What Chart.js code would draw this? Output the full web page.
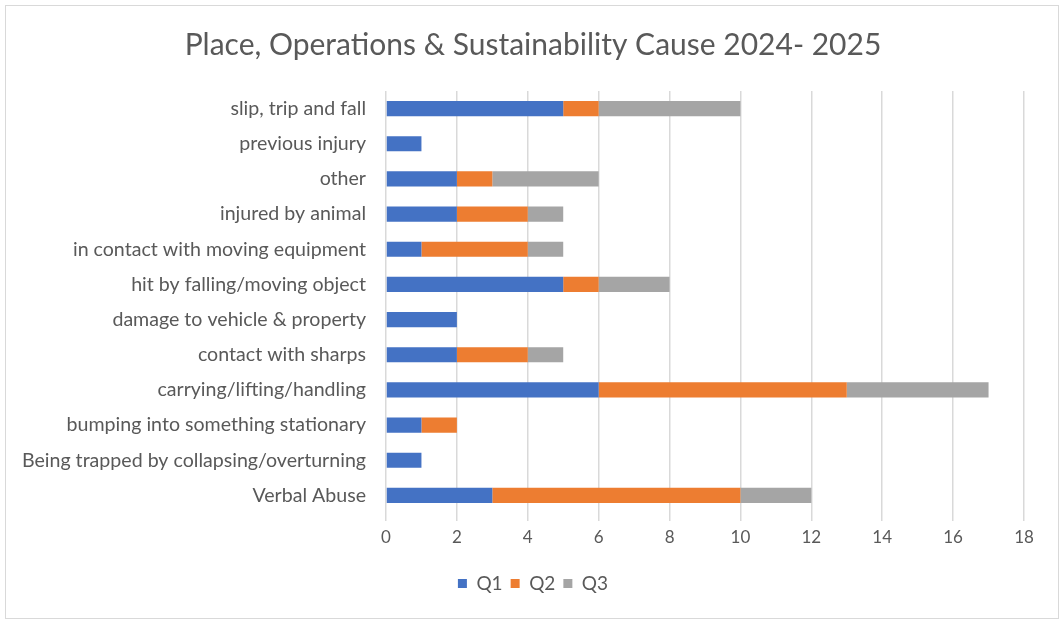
<!DOCTYPE html>
<html>
<head>
<meta charset="utf-8">
<script src="https://cdn.jsdelivr.net/npm/chart.js@4"></script>
<style>
  html, body { margin: 0; padding: 0; background: #fff; }
  canvas { display: block; }
</style>
</head>
<body>
<canvas id="causeChart" width="1061" height="621"></canvas>
<script>
// Place, Operations & Sustainability - causes by quarter
const categories = [
  "slip, trip and fall",
  "previous injury",
  "other",
  "injured by animal",
  "in contact with moving equipment",
  "hit by falling/moving object",
  "damage to vehicle & property",
  "contact with sharps",
  "carrying/lifting/handling",
  "bumping into something stationary",
  "Being trapped by collapsing/overturning",
  "Verbal Abuse",
];
const q1 = [5, 1, 2, 2, 1, 5, 2, 2, 6, 1, 1, 3];
const q2 = [1, 0, 1, 2, 3, 1, 0, 2, 7, 1, 0, 7];
const q3 = [4, 0, 3, 1, 1, 2, 0, 1, 4, 0, 0, 2];

const textColor = "#595959";
const gridColor = "#D9D9D9";
const fontFamily = "Lato, 'Open Sans', sans-serif";

// light frame round the whole chart
const framePlugin = {
  id: "frame",
  beforeDraw(chart) {
    const ctx = chart.ctx;
    ctx.save();
    ctx.fillStyle = "#fff";
    ctx.fillRect(0, 0, chart.width, chart.height);
    ctx.strokeStyle = gridColor;
    ctx.lineWidth = 1;
    ctx.strokeRect(5.5, 5.5, chart.width - 8, chart.height - 8);
    ctx.restore();
  },
};

const causeCtx = document.getElementById("causeChart").getContext("2d");

const causeChart = new Chart(causeCtx, {
  type: "bar",
  data: {
    labels: categories,
    datasets: [
      { label: "Q1", data: q1, backgroundColor: "#4472C4" },
      { label: "Q2", data: q2, backgroundColor: "#ED7D31" },
      { label: "Q3", data: q3, backgroundColor: "#A5A5A5" },
    ],
  },
  options: {
    indexAxis: "y",
    responsive: false,
    animation: false,
    datasets: {
      bar: { barPercentage: 0.43, categoryPercentage: 1.0 },
    },
    layout: {
      padding: { left: 6, right: 1, top: 6, bottom: 18 },
    },
    plugins: {
      title: {
        display: true,
        text: "Place, Operations & Sustainability Cause 2024- 2025",
        color: textColor,
        font: { family: fontFamily, size: 30, weight: "normal" },
        padding: { top: 21, bottom: 28 },
      },
      legend: {
        position: "bottom",
        labels: {
          color: textColor,
          font: { family: fontFamily, size: 19 },
          boxWidth: 9,
          boxHeight: 9,
          padding: 8,
        },
      },
      tooltip: { enabled: false },
    },
    scales: {
      x: {
        stacked: true,
        min: 0,
        max: 18,
        ticks: {
          stepSize: 2,
          color: textColor,
          font: { family: fontFamily, size: 17 },
          padding: 6,
        },
        grid: { color: gridColor, lineWidth: 1.5, tickLength: 8 },
        border: { display: false },
        afterFit(scale) {
          scale.height = 53;
        },
      },
      y: {
        stacked: true,
        ticks: {
          color: textColor,
          font: { family: fontFamily, size: 19.6 },
          padding: 20,
          autoSkip: false,
        },
        grid: { display: false, drawTicks: false },
        border: { display: false },
        afterFit(scale) {
          scale.width = 380;
        },
      },
      // empty strip on the right so the chart area stops short of the frame
      spacer: {
        type: "linear",
        position: "right",
        display: true,
        ticks: { display: false },
        grid: { display: false, drawTicks: false },
        border: { display: false },
        afterFit(scale) {
          scale.width = 36;
        },
      },
    },
  },
  plugins: [framePlugin],
});
</script>
</body>
</html>
